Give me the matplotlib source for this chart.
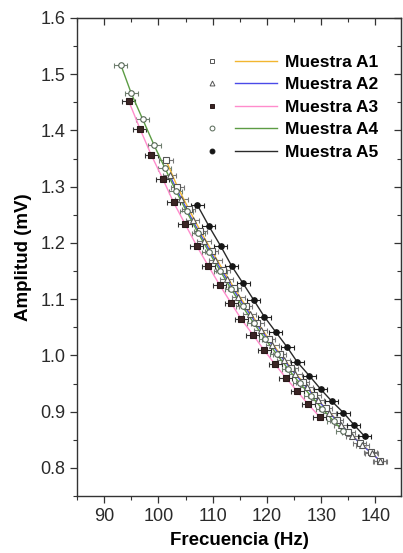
import matplotlib
matplotlib.use("Agg")
import matplotlib.pyplot as plt
from matplotlib.lines import Line2D
from matplotlib.legend_handler import HandlerTuple
from matplotlib.ticker import MultipleLocator

plt.rcParams['font.family'] = ['Liberation Sans', 'DejaVu Sans']

# frequency (Hz) and amplitude (mV)
a1_freq = [101.4, 103.5, 105.6, 107.7, 109.8, 111.9, 114.0, 116.1, 118.2, 120.3,
           122.4, 124.5, 126.6, 128.7, 130.8, 132.9, 135.0, 137.1, 139.1, 140.9]
a1_amp = [1.347, 1.300, 1.260, 1.222, 1.186, 1.152, 1.119, 1.088, 1.058, 1.030,
          1.003, 0.977, 0.953, 0.929, 0.906, 0.885, 0.864, 0.845, 0.828, 0.812]

a2_freq = [102.1, 104.2, 106.3, 108.4, 110.5, 112.6, 114.7, 116.8, 118.9, 121.0,
           123.1, 125.2, 127.3, 129.4, 131.5, 133.6, 135.7, 137.6, 139.3, 140.8]
a2_amp = [1.320, 1.279, 1.240, 1.204, 1.169, 1.136, 1.104, 1.074, 1.045, 1.018,
          0.992, 0.967, 0.943, 0.920, 0.898, 0.877, 0.857, 0.840, 0.826, 0.813]

a3_freq = [94.5, 96.6, 98.7, 100.8, 102.8, 104.9, 107.1, 109.2, 111.3, 113.4,
           115.3, 117.4, 119.5, 121.5, 123.5, 125.6, 127.6, 129.7]
a3_amp = [1.453, 1.403, 1.356, 1.314, 1.272, 1.234, 1.194, 1.159, 1.125, 1.093,
          1.064, 1.037, 1.009, 0.984, 0.960, 0.936, 0.913, 0.891]

a4_freq = [93.1, 95.0, 97.1, 99.2, 101.2, 103.2, 105.2, 107.3, 109.3, 111.4, 113.4,
           115.5, 117.6, 119.7, 121.8, 123.9, 126.0, 128.1, 130.2, 132.3, 134.0]
a4_amp = [1.516, 1.466, 1.420, 1.374, 1.333, 1.293, 1.256, 1.218, 1.184, 1.150, 1.118,
          1.087, 1.057, 1.029, 1.002, 0.976, 0.951, 0.928, 0.905, 0.883, 0.866]

a5_freq = [107.2, 109.3, 111.5, 113.5, 115.6, 117.6, 119.5, 121.6, 123.7, 125.6,
           127.8, 129.9, 131.9, 134.1, 136.0, 138.0]
a5_amp = [1.267, 1.230, 1.194, 1.159, 1.128, 1.098, 1.069, 1.042, 1.015, 0.988,
          0.964, 0.940, 0.919, 0.898, 0.877, 0.856]

freq_err = 1.2  # horizontal error bar half width (Hz)

labels = ['Muestra A1', 'Muestra A2', 'Muestra A3', 'Muestra A4', 'Muestra A5']
series = [(a1_freq, a1_amp), (a2_freq, a2_amp), (a3_freq, a3_amp),
          (a4_freq, a4_amp), (a5_freq, a5_amp)]
line_colors = ['#f2b630', '#4a4ae8', '#ff8ccc', '#5c9c44', '#2a2a2a']
markers = ['s', '^', 's', 'o', 'o']
face_colors = ['white', 'white', '#3a2424', 'white', '#151515']
edge_colors = ['#555555', '#555555', '#2a1a1a', '#556655', '#151515']
err_colors = ['#777777', '#777777', '#333333', '#6f7f6f', '#222222']

fig = plt.figure(figsize=(4.03, 5.53), dpi=100)
ax = fig.add_axes([77 / 403, 1 - 496 / 553, 324 / 403, 478 / 553])

# draw order: pink first so the green/blue bundle sits on top, black on top
for i in [2, 0, 1, 3, 4]:
    f, a = series[i]
    ax.errorbar(f, a, xerr=freq_err, fmt='none', ecolor=err_colors[i],
                elinewidth=0.8, capsize=1.8, capthick=0.8, zorder=2)
    ax.plot(f, a, color=line_colors[i], lw=1.0, zorder=3)
    ax.plot(f, a, ls='none', marker=markers[i], ms=4, mfc=face_colors[i],
            mec=edge_colors[i], mew=0.8, zorder=4)

ax.set_xlim(85, 144.7)
ax.set_ylim(0.75, 1.6)
ax.xaxis.set_major_locator(MultipleLocator(10))
ax.xaxis.set_minor_locator(MultipleLocator(5))
ax.yaxis.set_major_locator(MultipleLocator(0.1))
ax.yaxis.set_minor_locator(MultipleLocator(0.05))
ax.yaxis.set_major_formatter(matplotlib.ticker.FormatStrFormatter('%.1f'))

ax.tick_params(which='both', direction='out', top=False, right=False,
               labelsize=13, labelcolor='#2a2a2a', color='#333333')
ax.tick_params(which='major', length=5, width=0.9)
ax.tick_params(which='minor', length=3, width=0.8)
for side in ['top', 'right']:
    sec = ax.secondary_xaxis('top') if side == 'top' else ax.secondary_yaxis('right')
    sec.tick_params(which='both', direction='in', labelleft=False, labelright=False,
                    labeltop=False, labelbottom=False, color='#333333')
    sec.tick_params(which='major', length=5, width=0.9)
    sec.tick_params(which='minor', length=3, width=0.8)
    if side == 'top':
        sec.xaxis.set_major_locator(MultipleLocator(10))
        sec.xaxis.set_minor_locator(MultipleLocator(5))
    else:
        sec.yaxis.set_major_locator(MultipleLocator(0.1))
        sec.yaxis.set_minor_locator(MultipleLocator(0.05))
    sec.spines[side].set_color('#333333')

for s in ax.spines.values():
    s.set_color('#333333')
    s.set_linewidth(1.0)

ax.set_xlabel('Frecuencia (Hz)', fontsize=13.5, fontweight='bold', labelpad=5)
ax.set_ylabel('Amplitud (mV)', fontsize=13.5, fontweight='bold', labelpad=6)

handles = []
for i in range(5):
    mk = Line2D([], [], ls='none', marker=markers[i], ms=3.5, mfc=face_colors[i],
                mec=edge_colors[i], mew=0.7)
    ln = Line2D([], [], color=line_colors[i], lw=1.0)
    handles.append((mk, ln))
ax.legend(handles, labels, handler_map={tuple: HandlerTuple(ndivide=None, pad=0.1)},
          loc='upper left', bbox_to_anchor=(0.35, 0.923), frameon=False,
          prop={'weight': 'bold', 'size': 12.5}, handlelength=5.0,
          handletextpad=0.45, labelspacing=0.42, borderpad=0, borderaxespad=0)

fig.savefig('out.png', dpi=100)
